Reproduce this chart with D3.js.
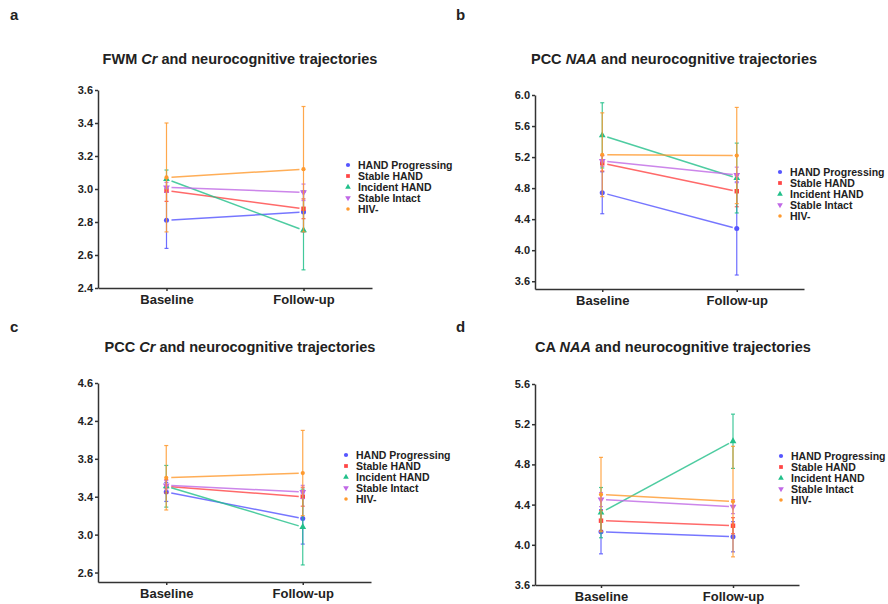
<!DOCTYPE html>
<meta charset="utf-8">
<head>
    <title>Neurocognitive trajectories</title>
    <script src="https://d3js.org/d3.v7.min.js"></script>
</head>

<style>
body { margin: 0; background: #fff; }
svg text { font-family: "Liberation Sans", Arial, sans-serif; font-weight: bold; fill: #222; }
</style>

<body>

<svg></svg>

<script>

// groups and time points shared by all four panels
let groups = ["HAND Progressing", "Stable HAND", "Incident HAND", "Stable Intact", "HIV-"];
let timepoints = ["Baseline", "Follow-up"];
let colors = ["#5555ff", "#ff4545", "#22c08a", "#c068e6", "#ff9a2e"];
let symbols = [d3.symbolCircle, d3.symbolSquare, d3.symbolTriangle, d3.symbolTriangle, d3.symbolCircle];

// a: FWM Cr  (mean per group: [baseline, follow-up], error bar half-length)
let fwmCrMean = [[2.81, 2.86], [2.99, 2.88], [3.06, 2.75], [3.01, 2.98], [3.07, 3.12]];
let fwmCrErr  = [[0.17, 0.12], [0.065, 0.06], [0.055, 0.24], [0.03, 0.05], [0.33, 0.38]];
let fwmCrTicks = [2.4, 2.6, 2.8, 3.0, 3.2, 3.4, 3.6];

// b: PCC NAA
let pccNaaMean = [[4.74, 4.28], [5.12, 4.76], [5.48, 4.93], [5.15, 4.97], [5.23, 5.22]];
let pccNaaErr  = [[0.27, 0.6], [0.1, 0.2], [0.42, 0.45], [0.07, 0.1], [0.54, 0.62]];
let pccNaaTicks = [3.6, 4.0, 4.4, 4.8, 5.2, 5.6, 6.0];

// c: PCC Cr
let pccCrMean = [[3.45, 3.17], [3.51, 3.40], [3.51, 3.08], [3.52, 3.45], [3.60, 3.65]];
let pccCrErr  = [[0.1, 0.27], [0.07, 0.1], [0.22, 0.4], [0.05, 0.07], [0.34, 0.45]];
let pccCrTicks = [2.6, 3.0, 3.4, 3.8, 4.2, 4.6];

// d: CA NAA
let caNaaMean = [[4.13, 4.08], [4.24, 4.19], [4.32, 5.03], [4.45, 4.38], [4.50, 4.43]];
let caNaaErr  = [[0.22, 0.15], [0.1, 0.08], [0.25, 0.27], [0.07, 0.07], [0.37, 0.55]];
let caNaaTicks = [3.6, 4.0, 4.4, 4.8, 5.2, 5.6];

let svg = d3.select("svg")
    .attr("width", 888)
    .attr("height", 604);

drawPanel({label: "a", lx: 10, ly: 20, title: ["FWM ", "Cr", " and neurocognitive trajectories"],
           tx: 240, ty: 64, x0: 98, x1: 372, y0: 90, y1: 288, domain: [2.4, 3.6],
           ticks: fwmCrTicks, mean: fwmCrMean, err: fwmCrErr, legX: 348, legY: 165});

drawPanel({label: "b", lx: 456, ly: 20, title: ["PCC ", "NAA", " and neurocognitive trajectories"],
           tx: 674, ty: 64, x0: 535, x1: 804, y0: 95, y1: 289, domain: [3.5, 6.0],
           ticks: pccNaaTicks, mean: pccNaaMean, err: pccNaaErr, legX: 780, legY: 172});

drawPanel({label: "c", lx: 10, ly: 332, title: ["PCC ", "Cr", " and neurocognitive trajectories"],
           tx: 240, ty: 352, x0: 98, x1: 371, y0: 383, y1: 582, domain: [2.5, 4.6],
           ticks: pccCrTicks, mean: pccCrMean, err: pccCrErr, legX: 346, legY: 455});

drawPanel({label: "d", lx: 456, ly: 332, title: ["CA ", "NAA", " and neurocognitive trajectories"],
           tx: 673, ty: 352, x0: 535, x1: 799, y0: 384, y1: 585, domain: [3.6, 5.6],
           ticks: caNaaTicks, mean: caNaaMean, err: caNaaErr, legX: 781, legY: 456});

function drawPanel(p){
  let g = svg.append("g");

  // panel letter
  g.append("text")
    .attr("x", p.lx).attr("y", p.ly)
    .style("font-size", "15px")
    .text(p.label);

  // title, middle word in italics
  let t = g.append("text")
    .attr("x", p.tx).attr("y", p.ty)
    .attr("text-anchor", "middle")
    .style("font-size", "14.5px");
  t.append("tspan").text(p.title[0]);
  t.append("tspan").style("font-style", "italic").text(p.title[1]);
  t.append("tspan").text(p.title[2]);

  let x = d3.scalePoint()
    .domain(timepoints)
    .range([p.x0, p.x1])
    .padding(0.5);

  let y = d3.scaleLinear()
    .domain(p.domain)
    .range([p.y1, p.y0]);

  // y axis
  let ya = g.append("g")
    .attr("transform", "translate(" + p.x0 + ",0)")
    .call(d3.axisLeft(y).tickValues(p.ticks).tickFormat(d3.format(".1f")).tickSize(3).tickPadding(2).tickSizeOuter(0));
  ya.selectAll("text").style("font-size", "11px").style("font-family", "'Liberation Sans', Arial, sans-serif");

  // x axis
  let xa = g.append("g")
    .attr("transform", "translate(0," + p.y1 + ")")
    .call(d3.axisBottom(x).tickSize(3).tickPadding(4).tickSizeOuter(0));
  xa.selectAll("text").style("font-size", "13px").style("font-family", "'Liberation Sans', Arial, sans-serif");

  g.selectAll(".domain, .tick line").attr("stroke", "#333").attr("stroke-width", 1.5);

  groups.forEach((name, i) => {
    let m = p.mean[i], e = p.err[i];
    let c = colors[i];

    // error bars with caps
    timepoints.forEach((tp, j) => {
      let cx = x(tp);
      g.append("line")
        .attr("x1", cx).attr("x2", cx)
        .attr("y1", y(m[j] - e[j])).attr("y2", y(m[j] + e[j]))
        .attr("stroke", c).attr("stroke-width", 1.2).attr("opacity", 0.85);
      [m[j] - e[j], m[j] + e[j]].forEach(v => {
        g.append("line")
          .attr("x1", cx - 2).attr("x2", cx + 2)
          .attr("y1", y(v)).attr("y2", y(v))
          .attr("stroke", c).attr("stroke-width", 1.2).attr("opacity", 0.85);
      });
    });

    // connecting line, left a small gap next to the markers
    let xa0 = x(timepoints[0]), xa1 = x(timepoints[1]);
    let ya0 = y(m[0]), ya1 = y(m[1]);
    let f0 = 5 / (xa1 - xa0), f1 = 1 - 4 / (xa1 - xa0);
    g.append("line")
      .attr("x1", xa0 + (xa1 - xa0) * f0).attr("y1", ya0 + (ya1 - ya0) * f0)
      .attr("x2", xa0 + (xa1 - xa0) * f1).attr("y2", ya0 + (ya1 - ya0) * f1)
      .attr("stroke", c).attr("stroke-width", 1.5).attr("opacity", 0.8);

    // markers
    timepoints.forEach((tp, j) => {
      g.append("path")
        .attr("d", d3.symbol().type(symbols[i]).size(i == 4 ? 14 : 20)())
        .attr("transform", "translate(" + x(tp) + "," + y(m[j]) + ")" + (i == 3 ? " rotate(180)" : ""))
        .attr("fill", c);
    });

    // legend
    let ly = p.legY + i * 11;
    g.append("path")
      .attr("d", d3.symbol().type(symbols[i]).size(i == 4 ? 10 : 14)())
      .attr("transform", "translate(" + p.legX + "," + ly + ")" + (i == 3 ? " rotate(180)" : ""))
      .attr("fill", c);
    g.append("text")
      .attr("x", p.legX + 10).attr("y", ly + 3.5)
      .style("font-size", "10.5px")
      .text(name);
  });
}

</script>

</body>
